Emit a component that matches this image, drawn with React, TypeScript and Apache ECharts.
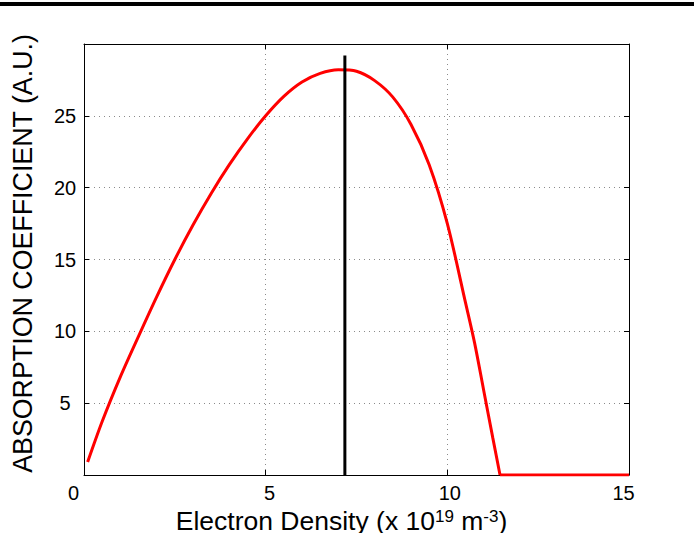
import React, { useEffect, useRef } from 'react';
import * as echarts from 'echarts';

// Electron density (x 1e19 m^-3)
const densityX = [0.1, 0.5, 1.0, 1.5, 2.0, 2.5, 3.0, 3.5, 4.0, 4.5, 5.0, 5.5, 6.0, 6.5, 7.0, 7.5, 8.0, 8.5, 9.0, 9.5, 10.0, 10.5, 10.75, 11.0, 11.25, 11.45, 15];
// Absorption coefficient (A.U.)
const absorption = [0.9, 3.72, 6.83, 9.65, 12.4, 15.0, 17.4, 19.6, 21.6, 23.4, 25.0, 26.35, 27.35, 27.95, 28.2, 28.1, 27.45, 26.3, 24.4, 21.6, 17.5, 12.0, 9.2, 5.9, 2.6, 0, 0];
// Vertical marker at the peak
const markerX = [7.18, 7.18];
const markerY = [0, 29.2];

const xMin = 0, xMax = 15, xStep = 5;
const yMin = 0, yMax = 30, yStep = 5;

const FONT = '"Liberation Sans", Arial, Helvetica, sans-serif';

export default function App() {
  const ref = useRef<HTMLDivElement>(null);
  useEffect(() => {
    document.body.style.margin = '0';
    const chart = echarts.init(ref.current!, undefined, { renderer: 'svg' });
    const tickStyle = { show: true, inside: true, length: 5, lineStyle: { color: '#000', width: 1 } };
    const axisLine = { show: true, onZero: false, lineStyle: { color: '#000', width: 1 } };
    const grid = { type: [1, 4] as any, color: '#8a8a8a', width: 1 };
    const pts = densityX.map((x, i) => [x, absorption[i]]);
    const zeroIdx = absorption.indexOf(0);
    chart.setOption({
      animation: false,
      backgroundColor: '#fff',
      textStyle: { fontFamily: FONT },
      grid: { left: 84, right: 65, top: 44, bottom: 58, outerBoundsMode: 'none', containLabel: false },
      graphic: [
        { type: 'rect', shape: { x: 0, y: 2, width: 694, height: 4 }, style: { fill: '#000' } },
      ],
      xAxis: [
        {
          type: 'value', min: xMin, max: xMax, interval: xStep, position: 'bottom',
          axisLine, axisTick: tickStyle,
          splitLine: { show: true, lineStyle: grid },
          axisLabel: {
            margin: 8, color: '#000', fontSize: 20, fontFamily: FONT,
            formatter: (v: number) => {
              const key = v === 0 ? 'z' : v === 5 ? 'f' : v === 10 ? 't' : 'e';
              return `{${key}|${v}}`;
            },
            rich: {
              z: { fontSize: 20, fontFamily: FONT, color: '#000', padding: [0, 21, 0, 0] },
              f: { fontSize: 20, fontFamily: FONT, color: '#000', padding: [0, 0, 0, 8] },
              t: { fontSize: 20, fontFamily: FONT, color: '#000', padding: [0, 0, 0, 5] },
              e: { fontSize: 20, fontFamily: FONT, color: '#000', padding: [0, 11, 0, 0] },
            },
          },
          name: '{a|Electron Density (x 10}{s|19}{a| m}{s|-3}{a|)}',
          nameLocation: 'middle', nameGap: 25,
          nameTextStyle: {
            padding: [0, 30, 0, 0],
            rich: {
              a: { fontSize: 26.5, fontFamily: FONT, color: '#000', lineHeight: 27 },
              s: { fontSize: 17, fontFamily: FONT, color: '#000', verticalAlign: 'top', lineHeight: 17 },
            },
          },
        },
        {
          type: 'value', min: xMin, max: xMax, interval: xStep, position: 'top',
          axisLine, axisTick: tickStyle, axisLabel: { show: false }, splitLine: { show: false },
        },
      ],
      yAxis: [
        {
          type: 'value', min: yMin, max: yMax, interval: yStep, position: 'left',
          axisLine, axisTick: tickStyle,
          splitLine: { show: true, lineStyle: grid },
          axisLabel: {
            showMinLabel: false, showMaxLabel: false, margin: 7,
            formatter: (v: number) => `{c|${v}}`,
            rich: { c: { width: 24, align: 'center', fontSize: 20, fontFamily: FONT, color: '#000' } },
          },
          name: 'ABSORPTION COEFFICIENT (A.U.)',
          nameLocation: 'middle', nameGap: 48,
          nameTextStyle: { fontSize: 26.8, fontFamily: FONT, color: '#000', padding: [0, 0, 0, 12] },
        },
        {
          type: 'value', min: yMin, max: yMax, interval: yStep, position: 'right',
          axisLine, axisTick: tickStyle, axisLabel: { show: false }, splitLine: { show: false },
        },
      ],
      series: [
        {
          type: 'line', xAxisIndex: 0, yAxisIndex: 0,
          data: pts.slice(0, zeroIdx + 1),
          smooth: 0.3, showSymbol: false, symbol: 'none',
          lineStyle: { color: '#ff0000', width: 3 }, z: 3,
        },
        {
          type: 'line', xAxisIndex: 0, yAxisIndex: 0,
          data: pts.slice(zeroIdx),
          showSymbol: false, symbol: 'none',
          lineStyle: { color: '#ff0000', width: 3 }, z: 3,
        },
        {
          type: 'line', xAxisIndex: 0, yAxisIndex: 0,
          data: markerX.map((x, i) => [x, markerY[i]]),
          showSymbol: false, symbol: 'none',
          lineStyle: { color: '#000', width: 3 }, z: 4,
        },
      ],
    });
    return () => chart.dispose();
  }, []);
  return <div ref={ref} style={{ position: 'absolute', left: 0, top: 0, width: 694, height: 533 }} />;
}
